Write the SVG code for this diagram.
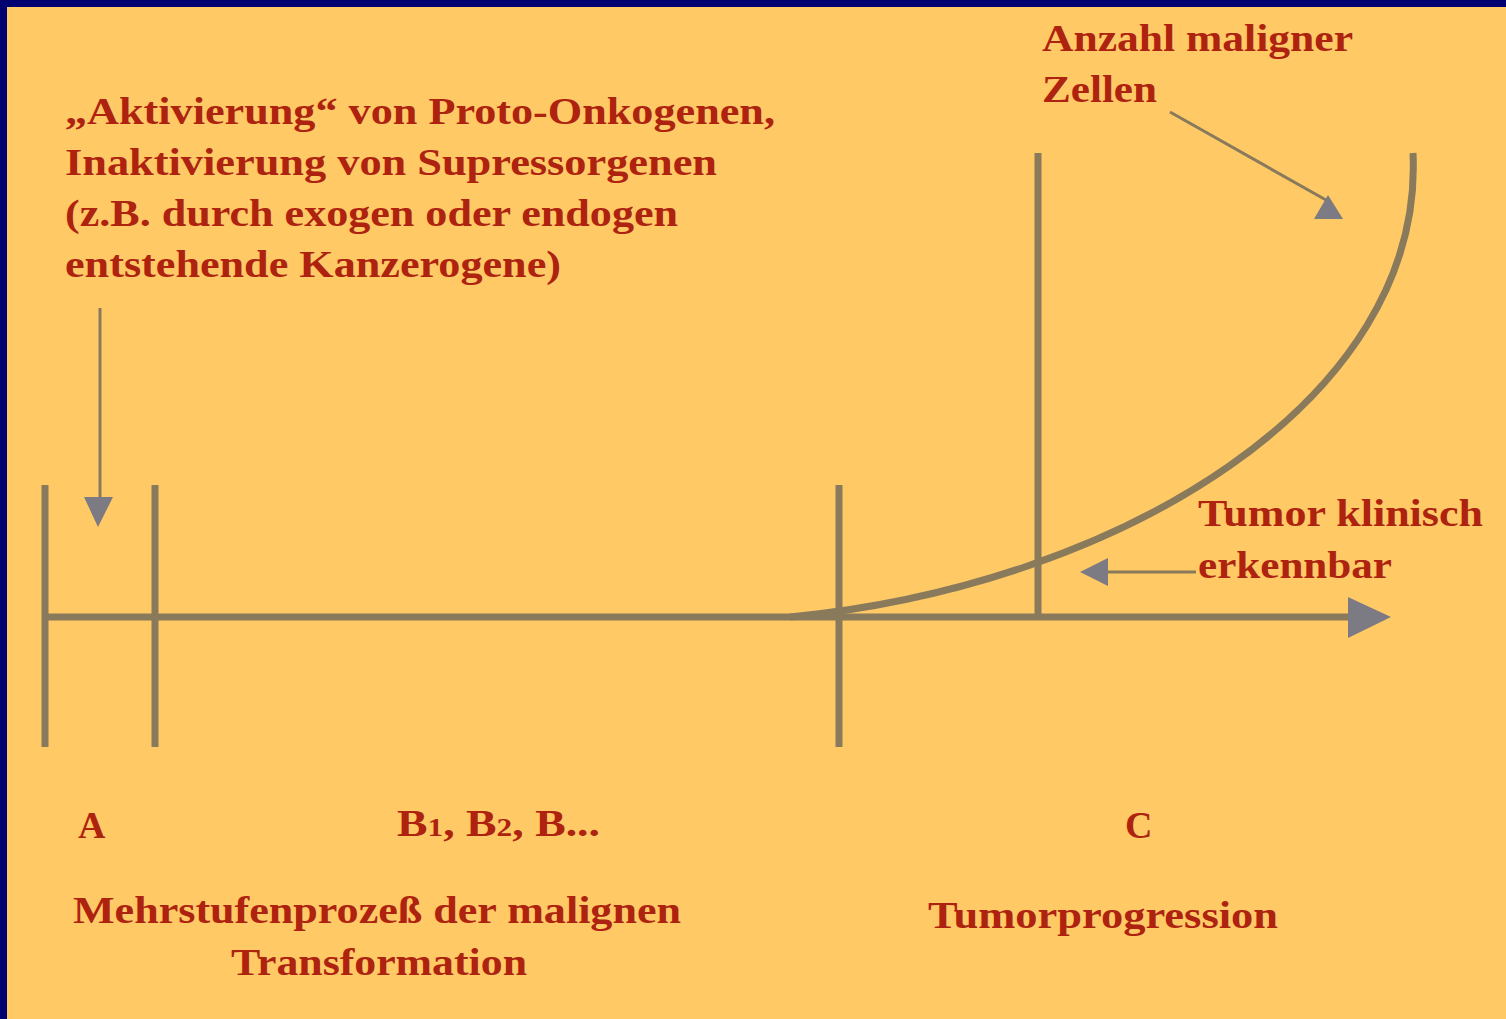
<svg xmlns="http://www.w3.org/2000/svg" width="1506" height="1019" viewBox="0 0 1506 1019">
<style>
.t{font-family:"Liberation Serif","Times New Roman",serif;font-weight:bold;font-size:38px;fill:#AE2210}
.ln{stroke:#8A7A5C;stroke-width:7;fill:none;stroke-linecap:butt}
.thin{stroke:#8A7A5C;stroke-width:3;fill:none}
.ah{fill:#7C7A82}
</style>
<rect x="0" y="0" width="1506" height="1019" fill="#000070"/>
<rect x="7" y="7" width="1499" height="1012" fill="#FFC966"/>

<g id="connectors">
  <line class="ln" x1="45" y1="617" x2="1352" y2="617"/>
  <polygon class="ah" points="1348,597 1391,617 1348,638"/>
  <path class="ln" d="M 790 617 C 1120 585 1425 400 1413 153"/>
  <line class="thin" x1="100" y1="308" x2="100" y2="498"/>
  <polygon class="ah" points="84,497 113,497 98,527"/>
  <line class="thin" x1="1170" y1="112" x2="1326" y2="200"/>
  <polygon class="ah" points="1328,195 1343,219 1314,219"/>
  <line class="thin" x1="1196" y1="572" x2="1104" y2="572"/>
  <polygon class="ah" points="1108,558 1108,586 1080,572"/>
</g>

<g id="tick-a"><line class="ln" x1="45" y1="485" x2="45" y2="747"/></g>
<g id="tick-b"><line class="ln" x1="155" y1="485" x2="155" y2="747"/></g>
<g id="tick-c"><line class="ln" x1="839" y1="485" x2="839" y2="747"/></g>
<g id="tick-clinical"><line class="ln" x1="1038" y1="153" x2="1038" y2="617"/></g>

<g id="label-activation">
  <text class="t" x="65" y="124" textLength="710" lengthAdjust="spacingAndGlyphs">„Aktivierung“ von Proto-Onkogenen,</text>
  <text class="t" x="65" y="175" textLength="652" lengthAdjust="spacingAndGlyphs">Inaktivierung von Supressorgenen</text>
  <text class="t" x="65" y="226" textLength="613" lengthAdjust="spacingAndGlyphs">(z.B. durch exogen oder endogen</text>
  <text class="t" x="65" y="277" textLength="496" lengthAdjust="spacingAndGlyphs">entstehende Kanzerogene)</text>
</g>

<g id="label-cells">
  <text class="t" x="1042" y="51" textLength="311" lengthAdjust="spacingAndGlyphs">Anzahl maligner</text>
  <text class="t" x="1042" y="102" textLength="115" lengthAdjust="spacingAndGlyphs">Zellen</text>
</g>

<g id="label-clinical">
  <text class="t" x="1198" y="526" textLength="285" lengthAdjust="spacingAndGlyphs">Tumor klinisch</text>
  <text class="t" x="1198" y="578" textLength="194" lengthAdjust="spacingAndGlyphs">erkennbar</text>
</g>

<g id="label-a"><text class="t" x="78" y="838">A</text></g>
<g id="label-b"><text class="t" x="397" y="836" textLength="203" lengthAdjust="spacingAndGlyphs">B<tspan font-size="26">1</tspan>, B<tspan font-size="26">2</tspan>, B...</text></g>
<g id="label-c"><text class="t" x="1125" y="838">C</text></g>

<g id="label-multistep">
  <text class="t" x="73" y="923" textLength="608" lengthAdjust="spacingAndGlyphs">Mehrstufenprozeß der malignen</text>
  <text class="t" x="231" y="975" textLength="296" lengthAdjust="spacingAndGlyphs">Transformation</text>
</g>

<g id="label-progression">
  <text class="t" x="928" y="928" textLength="350" lengthAdjust="spacingAndGlyphs">Tumorprogression</text>
</g>
</svg>
